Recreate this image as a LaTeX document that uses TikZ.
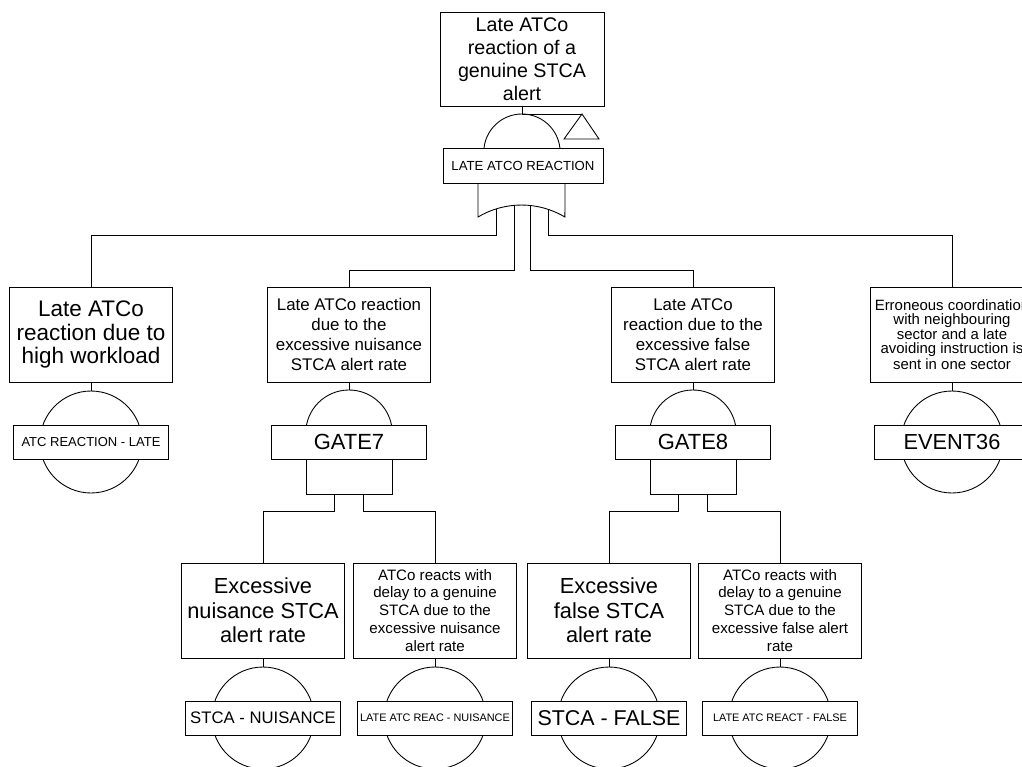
\documentclass[tikz,border=0pt]{standalone}
\usepackage{fontspec}
\setmainfont{Liberation Sans}

\newcommand{\fsz}[2]{\fontsize{#1}{#2}\selectfont}

\begin{document}
\begin{tikzpicture}[x=0.02cm, y=-0.02cm, line width=0.5pt,
    desc/.style={draw, fill=white, align=center, minimum width=3.26cm, minimum height=1.9cm, inner sep=1pt},
    tag/.style={draw, fill=white, minimum width=3.09cm, minimum height=0.68cm, inner sep=1pt},
    event/.style={circle, draw, minimum size=2.04cm, inner sep=0pt},
    andgate/.style={draw, minimum width=1.72cm, minimum height=0.7cm}]
    \useasboundingbox (0,0) rectangle (1022,767);
    \clip (0,0) rectangle (1022,767);

    % top event and its or gate
    \node [desc, minimum width=3.28cm, minimum height=1.88cm, font=\fsz{11.2}{13.1}] (top) at (522,59) {Late ATCo\\reaction of a\\genuine STCA\\alert};
    \coordinate (topdome) at (522,114);
    \coordinate (transfer) at (582,114);
    \draw (top.south) -- (topdome);
    \draw (topdome) -- (transfer);
    \draw (transfer) -- (599,139) -- (564,139) -- cycle;
    \draw (484,148) arc [start angle=173.7, end angle=6.3, radius=0.764cm];
    \node [tag, minimum width=3.2cm, minimum height=0.7cm, font=\fsz{7.5}{9}] (toptag) at (523,165.5) {LATE ATCO REACTION};
    \draw (toptag.south -| 478,0) -- (478,217) arc [start angle=120.8, end angle=59.2, radius=1.698cm] -- (toptag.south -| 565,0);

    \coordinate (in1) at (496,208.9);
    \coordinate (in2) at (514,205.3);
    \coordinate (in3) at (530,205.4);
    \coordinate (in4) at (548,209.2);
    \coordinate (lvl1) at (0,235);
    \coordinate (lvl2) at (0,270);

    % second level
    \node [desc, font=\fsz{12.8}{13.3}] (d1) at (91,334.5) {Late ATCo\\reaction due to\\high workload};
    \node [desc, font=\fsz{9.6}{11.4}] (d2) at (349,334.5) {Late ATCo reaction\\due to the\\excessive nuisance\\STCA alert rate};
    \node [desc, font=\fsz{9.6}{11.4}] (d3) at (693,334.5) {Late ATCo\\reaction due to the\\excessive false\\STCA alert rate};
    \node [desc, font=\fsz{8.5}{7.8}] (d4) at (952,334.5) {Erroneous coordination\\with neighbouring\\sector and a late\\avoiding instruction is\\sent in one sector};

    \draw (in1) -- (in1 |- lvl1) -| (d1.north);
    \draw (in2) -- (in2 |- lvl2) -| (d2.north);
    \draw (in3) -- (in3 |- lvl2) -| (d3.north);
    \draw (in4) -- (in4 |- lvl1) -| (d4.north);

    % basic events
    \node [event] (c1) at (91,442) {};
    \node [tag, font=\fsz{7.4}{9}] (t1) at (91,442) {ATC REACTION - LATE};
    \draw (d1.south) -- (c1.north);

    \node [event] (c4) at (952,442) {};
    \node [tag, font=\fsz{12.4}{14}] (t4) at (952,442) {EVENT36};
    \draw (d4.south) -- (c4.north);

    % GATE7
    \coordinate (g7top) at (349,390);
    \draw (d2.south) -- (g7top);
    \draw (306.5,425) arc [start angle=168.95, end angle=11.05, radius=0.866cm];
    \node [tag, font=\fsz{12.5}{14}] (g7) at (349,442) {GATE7};
    \node [andgate] (a7) at (349,476.5) {};

    % GATE8
    \coordinate (g8top) at (693,390);
    \draw (d3.south) -- (g8top);
    \draw (650.5,425) arc [start angle=168.95, end angle=11.05, radius=0.866cm];
    \node [tag, font=\fsz{12.5}{14}] (g8) at (693,442) {GATE8};
    \node [andgate] (a8) at (693,476.5) {};

    % third level
    \node [desc, font=\fsz{12.4}{14}] (d5) at (263,610.5) {Excessive\\nuisance STCA\\alert rate};
    \node [desc, font=\fsz{8.6}{10.2}] (d6) at (435,610.5) {ATCo reacts with\\delay to a genuine\\STCA due to the\\excessive nuisance\\alert rate};
    \node [desc, font=\fsz{12.4}{14}] (d7) at (609,610.5) {Excessive\\false STCA\\alert rate};
    \node [desc, font=\fsz{8.6}{10.2}] (d8) at (780,610.5) {ATCo reacts with\\delay to a genuine\\STCA due to the\\excessive false alert\\rate};

    \draw ([xshift=-0.3cm]a7.south) -- ++(0,17) -| (d5.north);
    \draw ([xshift=0.28cm]a7.south) -- ++(0,17) -| (d6.north);
    \draw ([xshift=-0.3cm]a8.south) -- ++(0,17) -| (d7.north);
    \draw ([xshift=0.28cm]a8.south) -- ++(0,17) -| (d8.north);

    \node [event] (c5) at (263,718) {};
    \node [tag, font=\fsz{9.5}{11}] (t5) at (263,718) {STCA - NUISANCE};
    \draw (d5.south) -- (c5.north);

    \node [event] (c6) at (435,718) {};
    \node [tag, font=\fsz{6.2}{8}] (t6) at (435,718) {LATE ATC REAC - NUISANCE};
    \draw (d6.south) -- (c6.north);

    \node [event] (c7) at (609,718) {};
    \node [tag, font=\fsz{12.2}{14}] (t7) at (609,718) {STCA - FALSE};
    \draw (d7.south) -- (c7.north);

    \node [event] (c8) at (780,718) {};
    \node [tag, font=\fsz{6.2}{8}] (t8) at (780,718) {LATE ATC REACT - FALSE};
    \draw (d8.south) -- (c8.north);
\end{tikzpicture}
\end{document}
